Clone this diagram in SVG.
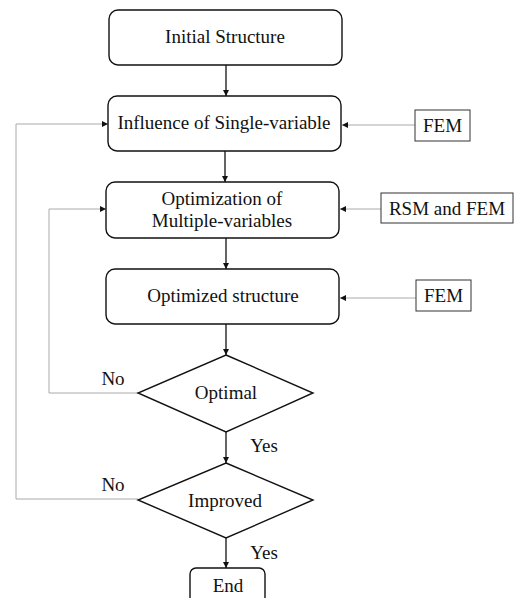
<svg xmlns="http://www.w3.org/2000/svg" width="515" height="598" viewBox="0 0 515 598">
<style>
.t{font-family:"Liberation Serif","Times New Roman",serif;font-size:19px;fill:#111;text-anchor:middle}
.box{fill:#fff;stroke:#111;stroke-width:1.4}
.side{fill:#fff;stroke:#333;stroke-width:1}
.main{stroke:#111;stroke-width:1.3;fill:none}
.gray{stroke:#aaa;stroke-width:1;fill:none}
</style>
<defs>
<marker id="ah" markerWidth="6" markerHeight="6" refX="6" refY="3" orient="auto" markerUnits="userSpaceOnUse">
<path d="M0,0 L6,3 L0,6 z" fill="#111"/>
</marker>
</defs>
<rect width="515" height="598" fill="#fff"/>
<g id="connectors">
<line class="main" x1="226" y1="65" x2="226" y2="96" marker-end="url(#ah)"/>
<line class="main" x1="225" y1="151" x2="225" y2="182" marker-end="url(#ah)"/>
<line class="main" x1="226" y1="238" x2="226" y2="269" marker-end="url(#ah)"/>
<line class="main" x1="226" y1="324" x2="226" y2="355" marker-end="url(#ah)"/>
<line class="main" x1="226" y1="432" x2="226" y2="463" marker-end="url(#ah)"/>
<line class="main" x1="226" y1="538" x2="226" y2="568" marker-end="url(#ah)"/>
<line class="gray" x1="415" y1="125" x2="342" y2="125" marker-end="url(#ah)"/>
<line class="gray" x1="381" y1="209" x2="340" y2="209" marker-end="url(#ah)"/>
<line class="gray" x1="416" y1="298" x2="340" y2="298" marker-end="url(#ah)"/>
<polyline class="gray" points="138,393 49,393 49,209 106,209" marker-end="url(#ah)"/>
<polyline class="gray" points="138,499 16,499 16,124 108,124" marker-end="url(#ah)"/>
</g>
<g id="initial">
<rect class="box" x="109" y="10" width="233" height="55" rx="9"/>
<text class="t" x="225" y="43">Initial Structure</text>
</g>
<g id="influence">
<rect class="box" x="108" y="96" width="233" height="55" rx="9"/>
<text class="t" x="224" y="129">Influence of Single-variable</text>
</g>
<g id="fem1">
<rect class="side" x="415" y="110" width="55" height="31"/>
<text class="t" x="442.5" y="132">FEM</text>
</g>
<g id="optimization">
<rect class="box" x="106" y="182" width="233" height="56" rx="9"/>
<text class="t" x="222" y="205">Optimization of</text>
<text class="t" x="222" y="227">Multiple-variables</text>
</g>
<g id="rsmfem">
<rect class="side" x="381" y="193" width="132" height="30"/>
<text class="t" x="447" y="215">RSM and FEM</text>
</g>
<g id="optimized">
<rect class="box" x="106" y="269" width="233" height="55" rx="9"/>
<text class="t" x="223" y="302">Optimized structure</text>
</g>
<g id="fem2">
<rect class="side" x="416" y="280" width="55" height="31"/>
<text class="t" x="443.5" y="302">FEM</text>
</g>
<g id="optimal">
<polygon class="box" points="226,355 313,393 226,432 138,393"/>
<text class="t" x="226" y="399">Optimal</text>
</g>
<g id="improved">
<polygon class="box" points="226,463 313,500 226,538 138,500"/>
<text class="t" x="225" y="507">Improved</text>
</g>
<g id="end">
<rect class="box" x="190" y="568" width="75" height="40" rx="6"/>
<text class="t" x="228" y="592">End</text>
</g>
<g id="labels">
<text class="t" x="113" y="385">No</text>
<text class="t" x="113" y="491">No</text>
<text class="t" x="264" y="452">Yes</text>
<text class="t" x="264" y="559">Yes</text>
</g>
</svg>
